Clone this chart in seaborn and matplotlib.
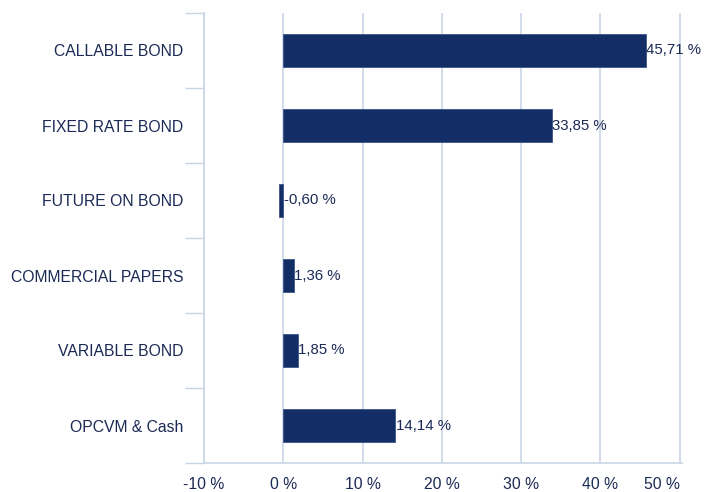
import matplotlib
matplotlib.use("Agg")
import matplotlib.pyplot as plt
import numpy as np
import pandas as pd
import seaborn as sns

categories = ["CALLABLE BOND", "FIXED RATE BOND", "FUTURE ON BOND",
              "COMMERCIAL PAPERS", "VARIABLE BOND", "OPCVM & Cash"]
weights = [45.71, 33.85, -0.60, 1.36, 1.85, 14.14]
x_ticks = [-10, 0, 10, 20, 30, 40, 50]

BAR = "#132d66"
GRID = "#c9d5e6"
TEXT = "#1b2a55"
FS = 11.3

sns.set_theme(style="white")
plt.rcParams['font.family'] = ['Liberation Sans', 'DejaVu Sans']

df = pd.DataFrame({"cat": categories, "val": weights})

fig = plt.figure(figsize=(7.04, 4.92), dpi=100)
ax = fig.add_axes([204 / 704, 1 - 463 / 492, (682 - 204) / 704, (463 - 13) / 492])
sns.barplot(data=df, x="val", y="cat", order=categories, color=BAR,
            width=0.45, orient="h", ax=ax, saturation=1,
            edgecolor="#3c5588", linewidth=0.6)

ax.set_xlim(-10, 50.3)
ax.set_ylim(len(categories) - 0.5, -0.5)
ax.set_xticks(x_ticks)
ax.set_xticklabels([f"{t} %" for t in x_ticks])
ax.get_xticklabels()[-1].set_horizontalalignment("right")
ax.set_xlabel("")
ax.set_ylabel("")

ax.set_yticks(np.arange(len(categories)))
ax.set_yticks(np.arange(len(categories) + 1) - 0.5, minor=True)
ax.tick_params(axis="y", which="major", length=0, pad=15, labelsize=FS, labelcolor=TEXT)
ax.tick_params(axis="y", which="minor", length=14, width=1, color=GRID, left=True)
ax.tick_params(axis="x", which="both", length=0, pad=10, labelsize=FS, labelcolor=TEXT)

ax.grid(axis="x", color=GRID, linewidth=1.2)
ax.set_axisbelow(True)
for side in ["top", "right"]:
    ax.spines[side].set_visible(False)
for side in ["left", "bottom"]:
    ax.spines[side].set_color(GRID)
    ax.spines[side].set_linewidth(1.2)

for i, v in enumerate(weights):
    label = f"{v:.2f}".replace(".", ",") + " %"
    ax.text(max(v, 0) + 0.05, i, label, va="center", ha="left",
            fontsize=10.8, color=TEXT)

fig.savefig("out.png", dpi=100)
